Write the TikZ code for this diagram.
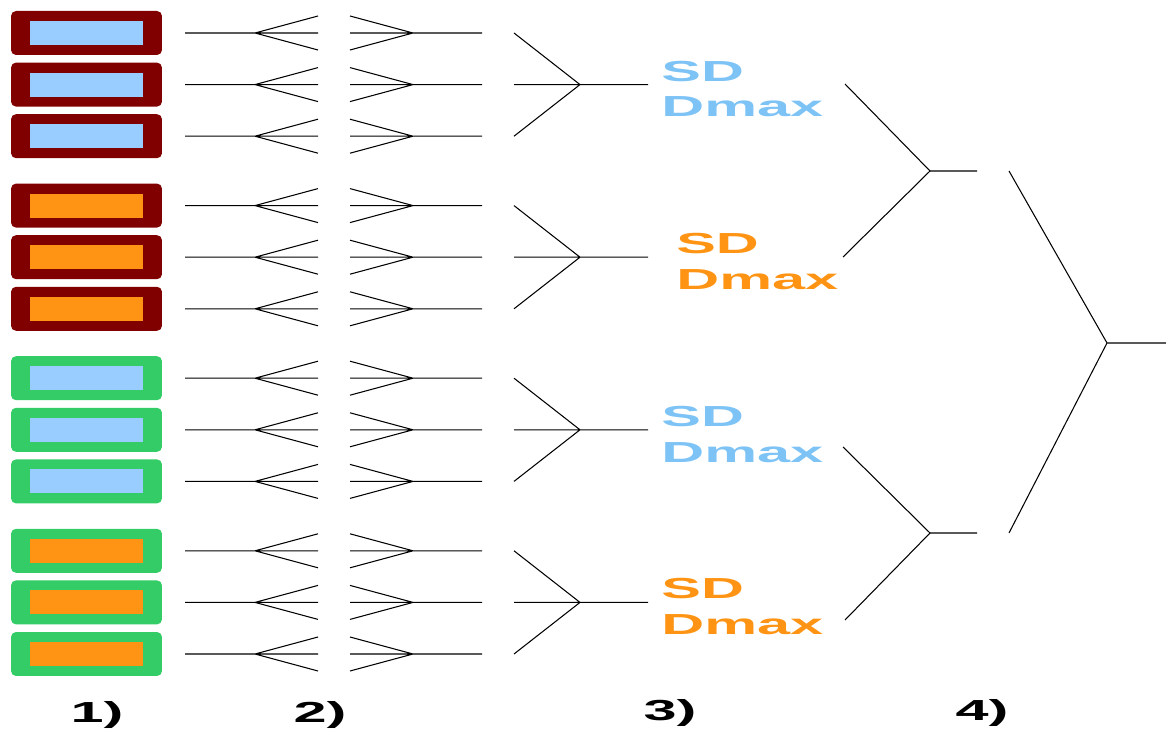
\documentclass[tikz,border=0pt]{standalone}
\usepackage{fontspec}
\setmainfont{Liberation Sans}[FakeStretch=2.05]
\usepackage{tikz}

\definecolor{maroon}{RGB}{128,0,0}
\definecolor{leafgreen}{RGB}{51,204,102}
\definecolor{skyblue}{RGB}{153,204,255}
\definecolor{textblue}{RGB}{125,195,245}
\definecolor{tangerine}{RGB}{255,148,20}

\tikzset{
	frame/.style={rectangle,rounded corners=0.1cm,minimum width=3.02cm,minimum height=0.88cm,inner sep=0pt},
	core/.style={rectangle,minimum width=2.26cm,minimum height=0.48cm,inner sep=0pt},
	wire/.style={line width=0.6pt,black},
	sdtext/.style={anchor=west,inner sep=0pt,align=left,font=\fontsize{16.5}{20.4}\selectfont\bfseries},
	stage/.style={inner sep=0pt,font=\fontsize{16.5}{20}\selectfont\bfseries}
}

\begin{document}
\begin{tikzpicture}[x=0.02cm,y=-0.02cm]
	\useasboundingbox (0,0) rectangle (1166,729);
	% four groups of three framed boxes, each row fanned out and in
	\foreach \g/\outc/\innc/\txtc/\tx in {0/maroon/skyblue/textblue/661,1/maroon/tangerine/tangerine/676,2/leafgreen/skyblue/textblue/661,3/leafgreen/tangerine/tangerine/661}{
		\foreach \r in {0,1,2}{
			\pgfmathsetmacro{\y}{33+172.6*\g+51.6*\r}
			\node[frame,fill=\outc] (box\g\r) at (86.5,\y) {};
			\node[core,fill=\innc] (in\g\r) at (box\g\r) {};
			\coordinate (s\g\r) at (185,\y);
			\coordinate (l\g\r) at (255,\y);
			\coordinate (r\g\r) at (413,\y);
			\coordinate (e\g\r) at (482,\y);
			\coordinate (f\g\r) at (514,\y);
			\draw[wire] (s\g\r) -- (l\g\r) -- ++(63,-17) (l\g\r) -- ++(63,0) (l\g\r) -- ++(63,17);
			\draw[wire] (r\g\r) -- ++(-63,-17) (r\g\r) -- ++(-63,0) (r\g\r) -- ++(-63,17) (r\g\r) -- (e\g\r);
		}
		\pgfmathsetmacro{\ym}{33+172.6*\g+51.6}
		\coordinate (j\g) at (580,\ym);
		\coordinate (o\g) at (648,\ym);
		\draw[wire] (f\g0) -- (j\g) -- (f\g2) (f\g1) -- (j\g) -- (o\g);
		\node[sdtext,text=\txtc] (t\g) at (\tx,\ym+4.5) {SD\\Dmax};
	}
	% pairs of groups joined
	\coordinate (p0) at (845,84);
	\coordinate (p1) at (843,257);
	\coordinate (p2) at (843,447);
	\coordinate (p3) at (845,620);
	\coordinate (q0) at (930,171);
	\coordinate (q1) at (930,533);
	\coordinate (w0) at (977,171);
	\coordinate (w1) at (977,533);
	\draw[wire] (p0) -- (q0) -- (p1) (q0) -- (w0);
	\draw[wire] (p2) -- (q1) -- (p3) (q1) -- (w1);
	% last join
	\coordinate (v0) at (1009,171);
	\coordinate (v1) at (1009,533);
	\coordinate (z) at (1107,343);
	\coordinate (zo) at (1166,343);
	\draw[wire] (v0) -- (z) -- (v1) (z) -- (zo);
	% step numbers
	\node[stage] (n1) at (97,715) {1)};
	\node[stage] (n2) at (320,715) {2)};
	\node[stage] (n3) at (670,713) {3)};
	\node[stage] (n4) at (982,713) {4)};
\end{tikzpicture}
\end{document}
